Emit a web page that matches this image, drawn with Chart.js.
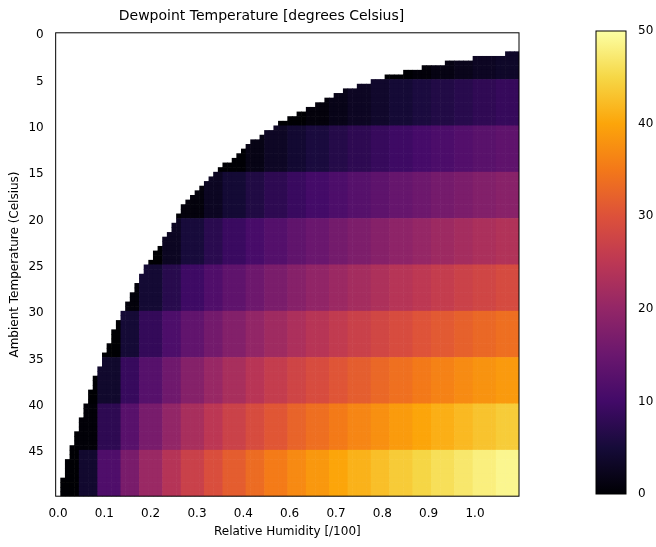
<!DOCTYPE html>
<html><head><meta charset="utf-8">
<script src="https://cdn.jsdelivr.net/npm/chart.js@4"></script>
<style>body{margin:0;background:#fff}#m{position:absolute;left:0;top:0}#c{position:absolute;left:540px;top:0}</style>
</head><body>
<canvas id="m" width="656" height="547"></canvas>
<canvas id="c" width="116" height="547"></canvas>
<script>
// Relative humidity tick labels at column indices 0,10,...,90
const xTickLabels = ["0.0","0.1","0.2","0.3","0.4","0.6","0.7","0.8","0.9","1.0"];
const yTickLabels = ["0","5","10","15","20","25","30","35","40","45"];
// Dewpoint readings: rows = temperature bands (10 grid rows each), cols = humidity bands of 0.05
const dew0 = [0,0,0,0,0,0,0,0,0,0,0,0,0,0,0,0,0,0.6,1.4,2.2,2.9,3.5];
const dew1 = [0,0,0,0,0,0,0,0,0,0,0,0,0.8,1.9,2.9,3.8,4.7,5.6,6.4,7.1,7.9,8.6];
const dew2 = [0,0,0,0,0,0,0,0,0.1,1.6,3.1,4.3,5.5,6.7,7.7,8.7,9.6,10.5,11.3,12.1,12.9,13.6];
const dew3 = [0,0,0,0,0,0,0.8,2.8,4.6,6.2,7.7,9.0,10.3,11.4,12.5,13.5,14.5,15.4,16.3,17.1,17.9,18.6];
const dew4 = [0,0,0,0,0,2.8,5.2,7.3,9.1,10.8,12.3,13.7,15.0,16.2,17.3,18.4,19.4,20.3,21.2,22.1,22.9,23.7];
const dew5 = [0,0,0,0.7,4.5,7.1,9.6,11.7,13.6,15.4,16.9,18.4,19.7,21.0,22.1,23.2,24.3,25.2,26.2,27.1,27.9,28.8];
const dew6 = [0,0,0,4.7,8.4,11.4,13.9,16.1,18.1,19.9,21.5,23.0,24.4,25.7,26.9,28.1,29.1,30.2,31.1,32.1,33.0,33.8];
const dew7 = [0,0,3.9,8.8,12.5,15.6,18.3,20.6,22.6,24.5,26.2,27.7,29.1,30.5,31.7,32.9,34.0,35.1,36.1,37.1,38.0,38.8];
const dew8 = [0,0.4,7.7,12.8,16.7,19.9,22.6,25.0,27.1,29.0,30.7,32.4,33.8,35.2,36.5,37.7,38.9,40.0,41.0,42.0,43.0,43.9];
const dew9 = [0,4.1,11.6,16.8,20.8,24.1,26.9,29.4,31.6,33.5,35.3,37.0,38.5,40.0,41.3,42.6,43.8,44.9,46.0,47.0,48.0,48.9];
const dewRows = [dew0,dew1,dew2,dew3,dew4,dew5,dew6,dew7,dew8,dew9];
// First column index with a value, per grid row (cells left of it are blank)
const firstCol = [100,100,100,100,97,90,84,79,75,71,68,65,62,60,58,56,54,52,50,48,47,45,44,42,41,40,39,38,36,35,34,33,32,31,30,29,28,27,27,26,26,25,25,24,23,23,22,21,21,20,19,19,18,18,17,17,16,16,15,15,14,14,13,13,12,12,12,11,11,10,10,10,9,9,8,8,8,7,7,7,6,6,6,5,5,5,4,4,4,3,3,3,2,2,2,2,1,1,1,1];
const colorbarTicks = [0,10,20,30,40,50];

const inferno = ["#000004","#160b39","#420a68","#6a176e","#932667","#bc3754","#dd513a","#f37819","#fca50a","#f6d746","#fcffa4"];
function hex(h){return [1,3,5].map(i=>parseInt(h.substr(i,2),16));}
const inf = inferno.map(hex);
function cmap(v){let t=Math.max(0,Math.min(1,v/50))*10;let i=Math.min(9,Math.floor(t));let f=t-i;
 const a=inf[i],b=inf[i+1];return `rgb(${a.map((x,k)=>Math.round(x+(b[k]-x)*f)).join(',')})`;}

Chart.defaults.font.family="DejaVu Sans";Chart.defaults.color="#000";
const NC=100,NR=100;
const cellPlugin={id:'cells',beforeDatasetsDraw(ch){
 const ctx=ch.ctx,xs=ch.scales.x,ys=ch.scales.y,a=ch.chartArea;
 ctx.save();ctx.beginPath();ctx.rect(a.left,a.top,a.right-a.left,a.bottom-a.top);ctx.clip();
 for(let r=0;r<NR;r++){const row=dewRows[Math.floor(r/10)];
  const y0=ys.getPixelForValue(r-0.5),y1=ys.getPixelForValue(r+0.5);
  for(let c=firstCol[r];c<NC;c++){
   const band=Math.min(row.length-1,Math.floor((c*1.1/99)/0.05+1e-9));
   const x0=xs.getPixelForValue(c-0.5),x1=xs.getPixelForValue(c+0.5);
   ctx.fillStyle=cmap(row[band]);ctx.fillRect(x0,Math.min(y0,y1),x1-x0+0.6,Math.abs(y1-y0)+0.6);}
 }
 ctx.restore();}};
const boxPlugin={id:'box',afterDraw(ch){const a=ch.chartArea,c=ch.ctx;c.save();c.strokeStyle="#000";c.lineWidth=1;c.strokeRect(a.left,a.top,a.right-a.left,a.bottom-a.top);c.restore();}};

new Chart(document.getElementById('m'),{type:'scatter',data:{datasets:[{data:[]}]},
 options:{responsive:false,animation:false,
  layout:{padding:{left:4,right:137,top:0,bottom:4}},
  plugins:{legend:{display:false},tooltip:{enabled:false},
   title:{display:true,text:"Dewpoint Temperature [degrees Celsius]",font:{size:14,weight:'normal'},padding:{top:8,bottom:8}}},
  scales:{
   x:{type:'linear',min:-0.5,max:99.5,grid:{display:false,drawTicks:true},border:{display:false},
    afterBuildTicks(s){s.ticks=xTickLabels.map((l,i)=>({value:i*10}));},
    ticks:{font:{size:12},padding:2,maxRotation:0,autoSkip:false,callback:(v,i)=>xTickLabels[i]},
    title:{display:true,text:"Relative Humidity [/100]",font:{size:12},padding:{top:2}}},
   y:{type:'linear',reverse:true,min:-0.5,max:99.5,grid:{display:false},border:{display:false},
    afterBuildTicks(s){s.ticks=yTickLabels.map((l,i)=>({value:i*10}));},
    ticks:{font:{size:12},padding:4,autoSkip:false,callback:(v,i)=>yTickLabels[i]},
    title:{display:true,text:"Ambient Temperature (Celsius)",font:{size:12},padding:{bottom:2}}}
  }},plugins:[cellPlugin,boxPlugin]});

const cbPlugin={id:'cb',beforeDatasetsDraw(ch){const a=ch.chartArea,c=ch.ctx,ys=ch.scales.y;
 const g=c.createLinearGradient(0,ys.getPixelForValue(0),0,ys.getPixelForValue(50));
 inferno.forEach((h,i)=>g.addColorStop(i/10,h));c.fillStyle=g;c.fillRect(a.left,a.top,a.right-a.left,a.bottom-a.top);
 c.strokeStyle="#000";c.lineWidth=1;c.strokeRect(a.left,a.top,a.right-a.left,a.bottom-a.top);}};
new Chart(document.getElementById('c'),{type:'scatter',data:{datasets:[{data:[]}]},
 options:{responsive:false,animation:false,layout:{padding:{left:56,right:0,top:31,bottom:53}},
  plugins:{legend:{display:false},tooltip:{enabled:false}},
  scales:{x:{display:false,min:0,max:1},
   y:{position:'right',min:0,max:50,grid:{display:false},border:{display:false},
    afterBuildTicks(s){s.ticks=colorbarTicks.map(v=>({value:v}));},
    ticks:{font:{size:12},padding:4},afterFit(s){s.width=30;}}}},plugins:[cbPlugin]});
</script></body></html>
